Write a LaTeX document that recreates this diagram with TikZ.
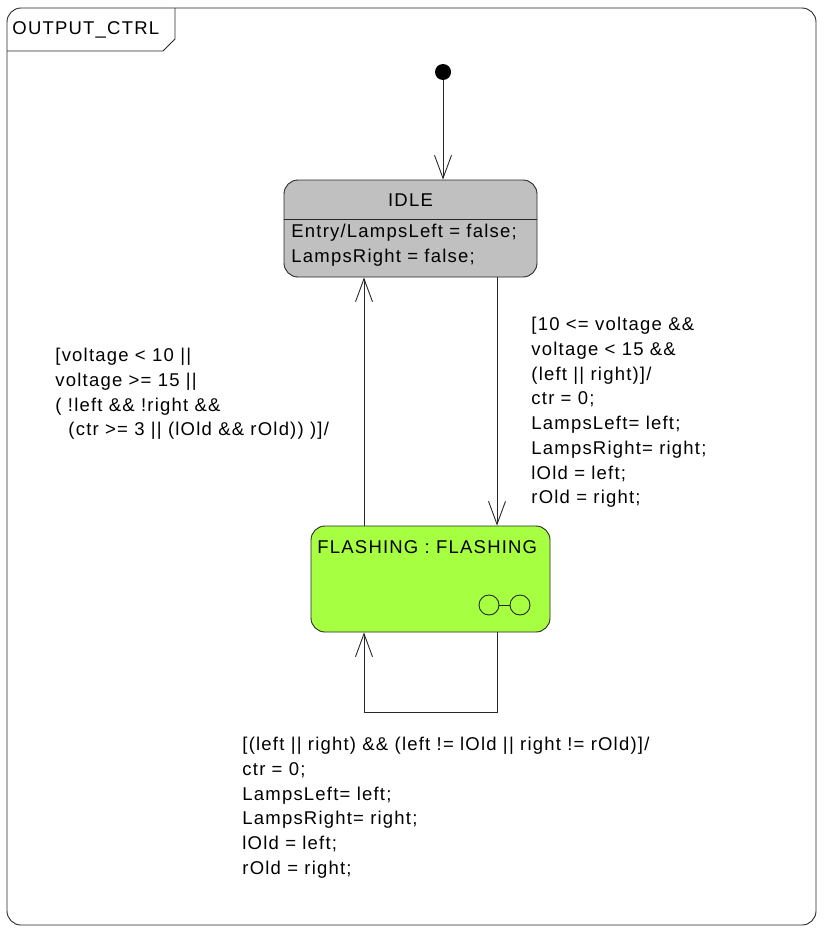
\documentclass[tikz,border=0pt]{standalone}
\usepackage{fontspec}
\setmainfont[LetterSpace=6.5]{Liberation Sans}
\usetikzlibrary{arrows.meta,positioning}

\definecolor{idlegray}{RGB}{192,192,192}
\definecolor{flashgreen}{RGB}{166,255,64}
\definecolor{linegray}{RGB}{40,40,40}

\tikzset{
    statebox/.style={draw, rounded corners=14pt, inner sep=0pt},
    arr/.style={-{Straight Barb[length=23pt,width=17pt]}},
    lbl/.style={inner sep=0pt, anchor=north west, align=left, font=\fontsize{18.5}{24.7}\selectfont}
}

\begin{document}
\begin{tikzpicture}[x=1pt,y=-1pt,line width=0.9pt,draw=linegray]
    \useasboundingbox (0,0) rectangle (825,934);

        %Outer frame and its name tab
        \draw[rounded corners=14pt] (7,8) rectangle (816,925);
        \draw (175,8) -- (175,39) -- (163,51) -- (7,51);
        \node[lbl, anchor=west] (name) at (12,30) {OUTPUT\_CTRL};

        %Initial point
        \node[circle, fill, inner sep=0pt, minimum size=16pt] (init) at (443,72) {};

        %IDLE state
        \node[statebox, fill=idlegray, minimum width=253pt, minimum height=97pt] (idle) at (410.5,228.5) {};
        \draw (idle.west |- 0,219) -- (idle.east |- 0,219);
        \node[lbl, anchor=base] (idlename) at (410.5,206) {IDLE};
        \node[lbl] (idleentry) at (291,224) {Entry/LampsLeft = false;\\LampsRight = false;};

        %FLASHING state with its sub-machine icon
        \node[statebox, fill=flashgreen, minimum width=239pt, minimum height=106pt] (flash) at (430.5,579) {};
        \node[lbl, anchor=base west] (flashname) at (317,553) {FLASHING : FLASHING};
        \node[draw, circle, inner sep=0pt, minimum size=20pt] (subl) at (489,605) {};
        \node[draw, circle, inner sep=0pt, minimum size=20pt] (subr) at (520,605) {};
        \draw (subl) -- (subr);

        %x positions of the two vertical connectors
        \coordinate (up) at (364,0);
        \coordinate (dn) at (497,0);

        %init to IDLE
        \draw[arr] (init) -- (init |- idle.north);

        %IDLE to FLASHING
        \draw[arr] (idle.south -| dn) -- (flash.north -| dn);
        \node[lbl] (guardin) at (531,317) {[10 <= voltage \&\&\\voltage < 15 \&\&\\(left || right)]/\\ctr = 0;\\LampsLeft= left;\\LampsRight= right;\\lOld = left;\\rOld = right;};

        %FLASHING back to IDLE
        \draw[arr] (flash.north -| up) -- (idle.south -| up);
        \node[lbl] (guardout) at (55,348) {[voltage < 10 ||\\voltage >= 15 ||\\( !left \&\& !right \&\&\\\hspace*{13pt}(ctr >= 3 || (lOld \&\& rOld)) )]/};

        %self loop on FLASHING
        \draw[arr] (flash.south -| dn) -- ++(0,80) -| (flash.south -| up);
        \node[lbl] (guardloop) at (242,737) {[(left || right) \&\& (left != lOld || right != rOld)]/\\ctr = 0;\\LampsLeft= left;\\LampsRight= right;\\lOld = left;\\rOld = right;};

\end{tikzpicture}
\end{document}
